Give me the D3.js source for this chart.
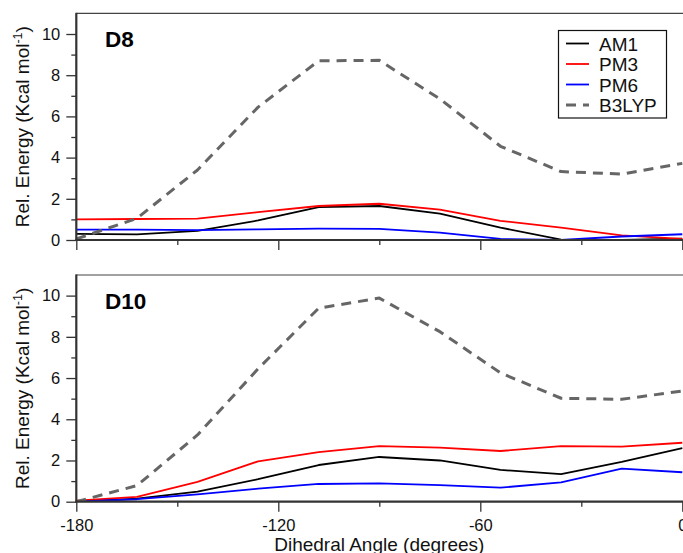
<!DOCTYPE html>
<html>
<head>
<meta charset="utf-8">
<script src="https://cdn.jsdelivr.net/npm/d3@7"></script>
<style>
  html, body { margin: 0; padding: 0; background: #fff; overflow: hidden; }
  svg { display: block; font-family: "Liberation Sans", Arial, Helvetica, sans-serif; }
</style>
</head>
<body>
<svg id="chart" width="683" height="553"></svg>
<script>
// Dihedral scan angles (degrees)
const angles = [-180, -162, -144, -126, -108, -90, -72, -54, -36, -18, 0];

// Relative energies (kcal/mol), D8
const d8AM1   = [0.30, 0.27, 0.44, 0.95, 1.60, 1.65, 1.28, 0.60, 0.02, 0.01, 0.07];
const d8PM3   = [1.00, 1.02, 1.04, 1.35, 1.65, 1.76, 1.47, 0.93, 0.60, 0.22, 0.05];
const d8PM6   = [0.50, 0.50, 0.48, 0.52, 0.55, 0.54, 0.36, 0.05, 0.00, 0.17, 0.28];
const d8B3LYP = [0.05, 1.05, 3.40, 6.45, 8.70, 8.72, 6.85, 4.55, 3.32, 3.20, 3.72];

// Relative energies (kcal/mol), D10
const d10AM1   = [0.00, 0.15, 0.49, 1.09, 1.78, 2.17, 2.00, 1.54, 1.34, 1.93, 2.60];
const d10PM3   = [0.05, 0.23, 0.96, 1.96, 2.41, 2.70, 2.62, 2.46, 2.70, 2.67, 2.86];
const d10PM6   = [0.00, 0.12, 0.36, 0.63, 0.86, 0.89, 0.80, 0.68, 0.94, 1.60, 1.43];
const d10B3LYP = [0.00, 0.78, 3.24, 6.45, 9.39, 9.88, 8.25, 6.25, 5.02, 4.97, 5.37];

const methods = ["AM1", "PM3", "PM6", "B3LYP"];
const xTicks = [-180, -120, -60, 0];
const yTicks = [0, 2, 4, 6, 8, 10];

const panels = [
  { name: "D8",  series: [d8AM1, d8PM3, d8PM6, d8B3LYP],     top: 13.4, bottom: 240,   legend: true,  xLabels: false },
  { name: "D10", series: [d10AM1, d10PM3, d10PM6, d10B3LYP], top: 275,  bottom: 501.7, legend: false, xLabels: true }
];

const styles = {
  AM1:   { color: "#000000", width: 1.8, dash: null },
  PM3:   { color: "#ff0000", width: 1.8, dash: null },
  PM6:   { color: "#0000ff", width: 1.8, dash: null },
  B3LYP: { color: "#666666", width: 3,   dash: "10,7" }
};

// plain hyphen-minus for negative tick labels
const plain = d => String(d);

const svg = d3.select("#chart");
const left = 76.3, right = 682.3;
const x = d3.scaleLinear().domain([-180, 0]).range([left, right]);

panels.forEach((p, pi) => {
  const y = d3.scaleLinear().domain([0, 11]).range([p.bottom, p.top]);
  const g = svg.append("g");

  // top frame line
  g.append("line")
    .attr("x1", left).attr("x2", 690)
    .attr("y1", p.top).attr("y2", p.top)
    .attr("stroke", "#444").attr("stroke-width", 1.2);

  // clip for data lines
  const clipId = "clip" + pi;
  svg.append("clipPath").attr("id", clipId)
    .append("rect").attr("x", left).attr("y", p.top)
    .attr("width", right - left + 5).attr("height", p.bottom - p.top);

  // series
  const line = d3.line().x((d, i) => x(angles[i])).y(d => y(d));
  p.series.forEach((vals, si) => {
    const st = styles[methods[si]];
    g.append("path")
      .datum(vals)
      .attr("clip-path", `url(#${clipId})`)
      .attr("fill", "none")
      .attr("stroke", st.color)
      .attr("stroke-width", st.width)
      .attr("stroke-dasharray", st.dash)
      .attr("stroke-linejoin", "round")
      .attr("d", line);
  });

  // y axis: major ticks with labels, minor ticks at odd values
  const yAxis = d3.axisLeft(y).tickValues(yTicks).tickSize(10).tickPadding(6).tickFormat(plain);
  const ya = g.append("g").attr("transform", `translate(${left},0)`).call(yAxis);
  ya.select(".domain").remove();
  ya.selectAll(".tick line").attr("stroke", "#333").attr("stroke-width", 1.3);
  ya.selectAll(".tick text").attr("font-size", 16.5).attr("fill", "#111")
    .attr("font-family", "Liberation Sans, Arial, sans-serif");
  const yMinor = d3.axisLeft(y).tickValues([1, 3, 5, 7, 9]).tickSize(5).tickFormat("");
  const ym = g.append("g").attr("transform", `translate(${left},0)`).call(yMinor);
  ym.select(".domain").remove();
  ym.selectAll(".tick line").attr("stroke", "#333").attr("stroke-width", 1.3);

  // x axis: major ticks, minor ticks at -150, -90, -30
  const xAxis = d3.axisBottom(x).tickValues(xTicks).tickSize(10).tickPadding(8)
    .tickFormat(p.xLabels ? plain : "");
  const xa = g.append("g").attr("transform", `translate(0,${p.bottom})`).call(xAxis);
  xa.select(".domain").remove();
  xa.selectAll(".tick line").attr("stroke", "#333").attr("stroke-width", 1.3);
  xa.selectAll(".tick text").attr("font-size", 16.5).attr("fill", "#111")
    .attr("font-family", "Liberation Sans, Arial, sans-serif");
  const xMinor = d3.axisBottom(x).tickValues([-150, -90, -30]).tickSize(5).tickFormat("");
  const xm = g.append("g").attr("transform", `translate(0,${p.bottom})`).call(xMinor);
  xm.select(".domain").remove();
  xm.selectAll(".tick line").attr("stroke", "#333").attr("stroke-width", 1.3);

  // axis lines
  g.append("line").attr("x1", left).attr("x2", left)
    .attr("y1", p.top - 0.6).attr("y2", p.bottom + 1)
    .attr("stroke", "#333").attr("stroke-width", 2.2);
  g.append("line").attr("x1", left - 1).attr("x2", 690)
    .attr("y1", p.bottom).attr("y2", p.bottom)
    .attr("stroke", "#333").attr("stroke-width", 2.2);

  // y axis title
  const cy = (p.top + p.bottom) / 2;
  const t = g.append("text")
    .attr("transform", `translate(29,${cy}) rotate(-90)`)
    .attr("text-anchor", "middle")
    .attr("font-size", 19).attr("fill", "#111");
  t.append("tspan").text("Rel. Energy (Kcal mol");
  t.append("tspan").attr("font-size", 12.5).attr("dy", -7.5).text("-1");
  t.append("tspan").attr("dy", 7.5).text(")");

  // panel label
  g.append("text").attr("x", 105).attr("y", p.top + 34)
    .attr("font-size", 22.5).attr("font-weight", "bold").attr("fill", "#000")
    .text(p.name);

  // legend
  if (p.legend) {
    const lg = g.append("g");
    lg.append("rect").attr("x", 558.5).attr("y", 30.5).attr("width", 108).attr("height", 87.5)
      .attr("fill", "#fff").attr("stroke", "#111").attr("stroke-width", 1.2);
    methods.forEach((m, i) => {
      const ly = 43.5 + i * 20.5;
      const st = styles[m];
      lg.append("line").attr("x1", 566).attr("x2", 589).attr("y1", ly).attr("y2", ly)
        .attr("stroke", st.color).attr("stroke-width", st.width)
        .attr("stroke-dasharray", st.dash);
      lg.append("text").attr("x", 599).attr("y", ly + 7)
        .attr("font-size", 19).attr("fill", "#111").text(m);
    });
  }
});

// x axis title
svg.append("text")
  .attr("x", x(-90)).attr("y", 551)
  .attr("text-anchor", "middle")
  .attr("font-size", 19).attr("fill", "#111")
  .text("Dihedral Angle (degrees)");
</script>
</body>
</html>
